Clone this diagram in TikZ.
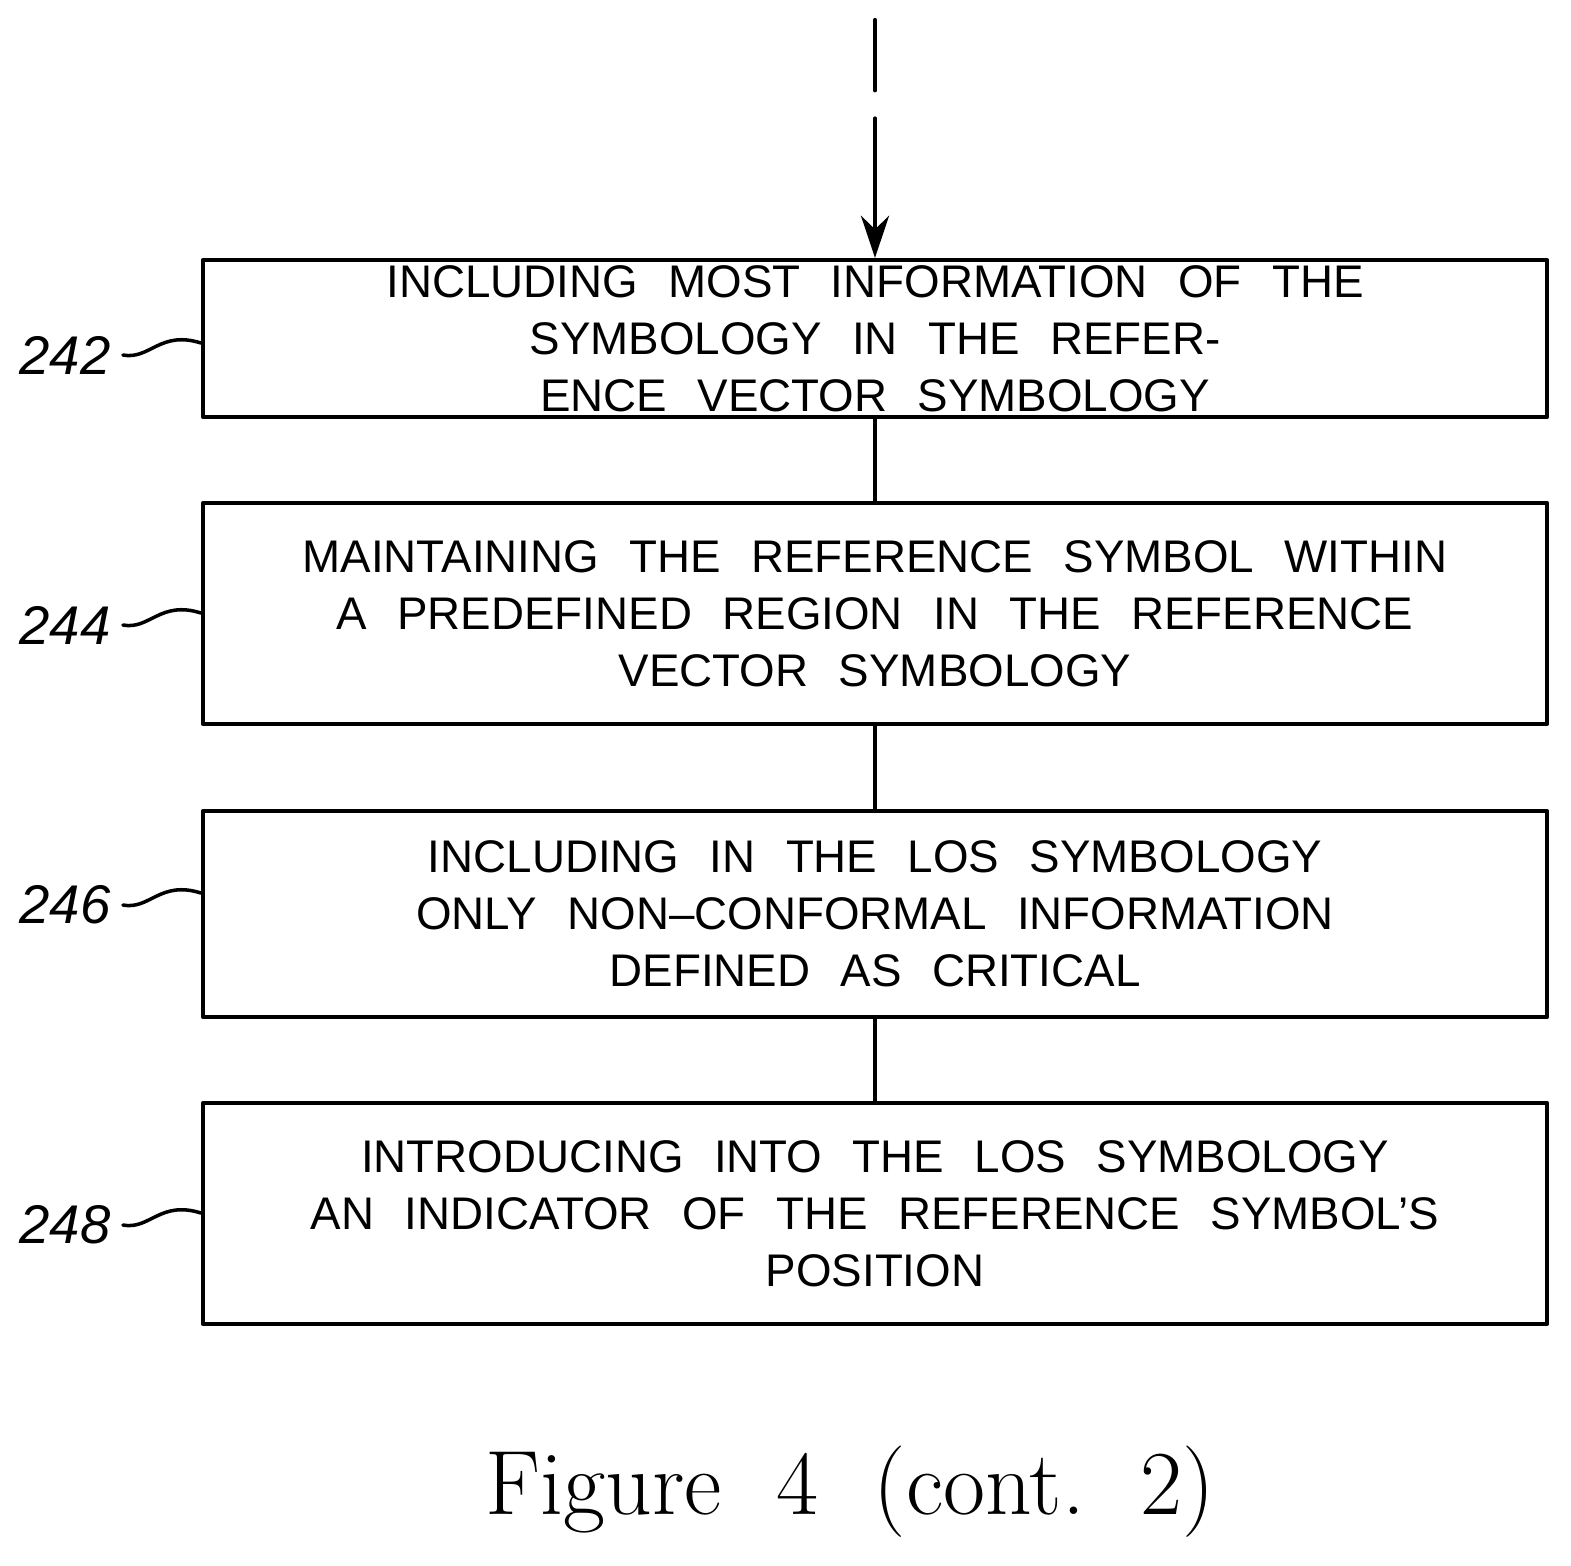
\documentclass[tikz,border=0pt]{standalone}
\usepackage{fontspec}
\setsansfont{Liberation Sans}
\usetikzlibrary{arrows.meta}
\tikzset{
  stepbox/.style={draw, line width=1.2pt, text width=13.43cm, align=center,
    font=\sffamily\fontsize{13}{16.2}\selectfont, inner sep=0pt},
  ref/.style={font=\itshape\sffamily\fontsize{15.5}{17}\selectfont}
}
\begin{document}
\begin{tikzpicture}[x=0.01cm, y=-0.01cm, line cap=round, line join=round]
  \useasboundingbox (0,0) rectangle (1571,1565);
  % Kasten
  \node[stepbox, minimum height=1.57cm] (s242) at (875,338.5)
    {INCLUDING\ \ MOST\ \ INFORMATION\ \ OF\ \ THE\\SYMBOLOGY\ \ IN\ \ THE\ \ REFERENCE\ \ VECTOR\ \ SYMBOLOGY};
  \node[stepbox, minimum height=2.21cm] (s244) at (875,613.5)
    {MAINTAINING\ \ THE\ \ REFERENCE\ \ SYMBOL\ \ WITHIN\\A\ \ PREDEFINED\ \ REGION\ \ IN\ \ THE\ \ REFERENCE\\VECTOR\ \ SYMBOLOGY};
  \node[stepbox, minimum height=2.06cm] (s246) at (875,914)
    {INCLUDING\ \ IN\ \ THE\ \ LOS\ \ SYMBOLOGY\\ONLY\ \ NON--CONFORMAL\ \ INFORMATION\\DEFINED\ \ AS\ \ CRITICAL};
  \node[stepbox, minimum height=2.21cm] (s248) at (875,1213.5)
    {INTRODUCING\ \ INTO\ \ THE\ \ LOS\ \ SYMBOLOGY\\AN\ \ INDICATOR\ \ OF\ \ THE\ \ REFERENCE\ \ SYMBOL'S\\POSITION};
  % Verbindungen
  \coordinate (top) at (875,20);
  \coordinate (mid) at (875,140);
  \draw[line width=1.2pt, dash pattern=on 20pt off 8pt] (top) -- (mid);
  \draw[line width=1.2pt, -{Stealth[length=12pt,width=8pt]}] (mid) -- (s242.north);
  \draw[line width=1.2pt] (s242) -- (s244);
  \draw[line width=1.2pt] (s244) -- (s246);
  \draw[line width=1.2pt] (s246) -- (s248);
  % Bezugszeichen
  \foreach \n/\y in {242/355, 244/625, 246/905, 248/1225}{
    \node[ref] (l\n) at (65,\y) {\n};
    \coordinate (e\n) at (0,\y-12);
    \draw[line width=1pt] (l\n.east) .. controls (150,\y+5) and (160,\y-25) .. (s\n.west |- e\n);
  }
  % Titel
  \node[font=\fontsize{26}{30}\selectfont] (cap) at (850,1492) {Figure\ \ 4\ \ (cont.\ \ 2)};
\end{tikzpicture}
\end{document}
